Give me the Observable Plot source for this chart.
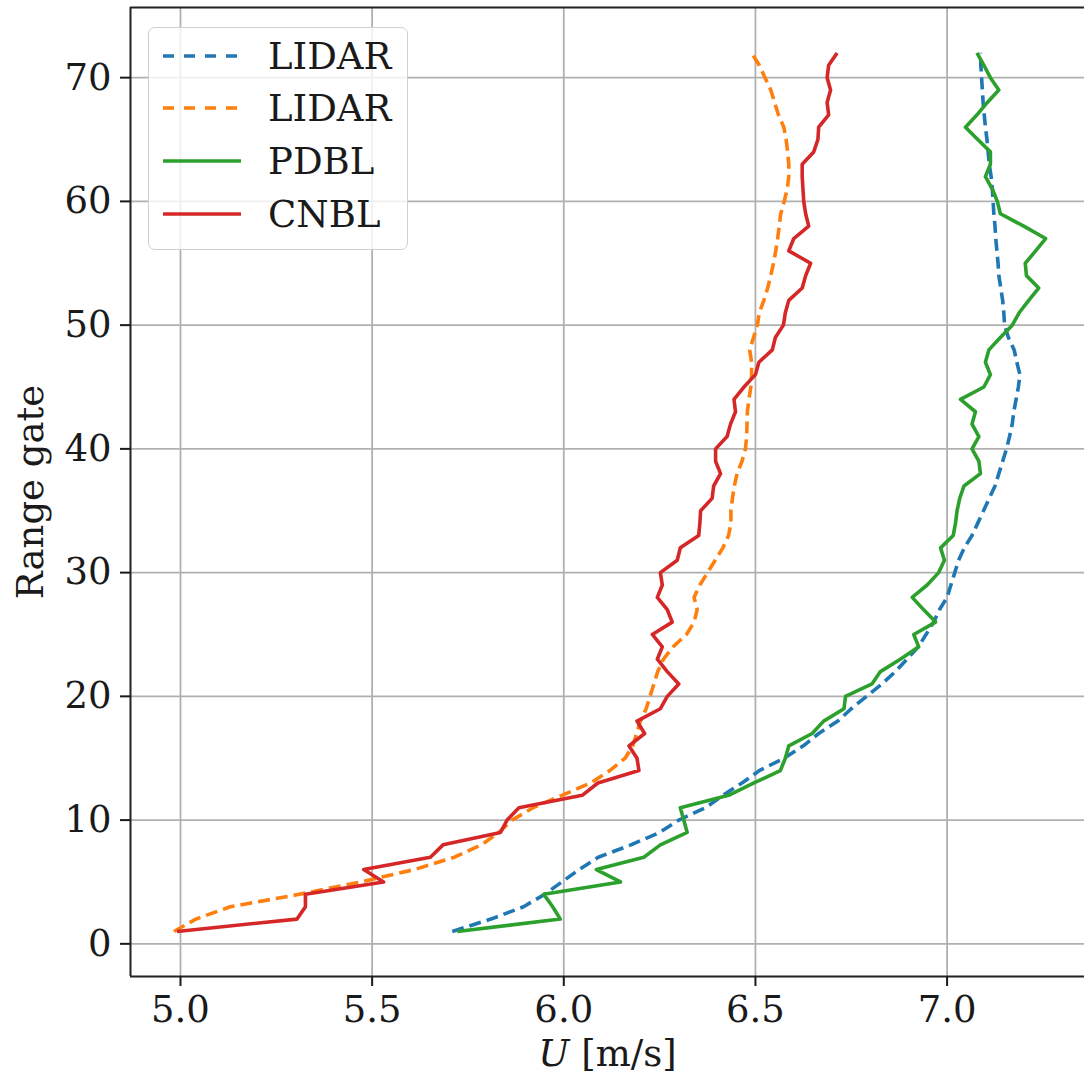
<!DOCTYPE html>
<html>
<head>
<meta charset="utf-8">
<script src="https://cdn.jsdelivr.net/npm/d3@7"></script>
<script src="https://cdn.jsdelivr.net/npm/@observablehq/plot@0.6"></script>
<style>
  html, body { margin: 0; padding: 0; background: #fff; }
  #wrap { position: relative; width: 1084px; height: 1079px; overflow: hidden; }
  #legend { position: absolute; left: 148px; top: 27px; width: 260px; height: 223px;
    box-sizing: border-box; border: 1.5px solid #d0d0d0; border-radius: 7px;
    background: rgba(255,255,255,0.8); }
  #legend svg { position: absolute; left: 0; top: 0; }
</style>
</head>
<body>
<div id="wrap"><div id="chart"></div><div id="legend"></div></div>
<script>
// Range gates (vertical axis)
const gates = [1,2,3,4,5,6,7,8,9,10,11,12,13,14,15,16,17,18,19,20,21,22,23,24,25,26,27,28,29,30,
  31,32,33,34,35,36,37,38,39,40,41,42,43,44,45,46,47,48,49,50,51,52,53,54,55,56,57,58,59,60,
  61,62,63,64,65,66,67,68,69,70,71,72];

// LIDAR (blue, dashed) – U [m/s]
const lidarBlue = [5.709,5.81,5.895,5.95,5.995,6.04,6.09,6.175,6.25,6.30,
  6.37,6.415,6.465,6.51,6.575,6.625,6.665,6.715,6.75,6.79,
  6.83,6.865,6.895,6.925,6.945,6.965,6.98,7.0,7.01,7.02,
  7.03,7.045,7.065,7.08,7.095,7.11,7.125,7.135,7.145,7.155,
  7.163,7.17,7.174,7.18,7.186,7.19,7.182,7.175,7.16,7.15,
  7.148,7.145,7.14,7.135,7.133,7.13,7.127,7.125,7.122,7.12,
  7.118,7.115,7.11,7.107,7.104,7.1,7.097,7.094,7.092,7.09,7.088,7.087];

// LIDAR (orange, dashed)
const lidarOrange = [4.983,5.04,5.13,5.31,5.47,5.61,5.715,5.785,5.83,5.865,
  5.92,5.995,6.07,6.12,6.16,6.18,6.19,6.20,6.215,6.225,
  6.235,6.245,6.26,6.285,6.32,6.34,6.348,6.34,6.355,6.375,
  6.395,6.415,6.43,6.436,6.436,6.44,6.445,6.452,6.465,6.474,
  6.477,6.478,6.479,6.483,6.488,6.49,6.49,6.485,6.495,6.505,
  6.51,6.522,6.532,6.54,6.547,6.553,6.558,6.562,6.566,6.575,
  6.583,6.587,6.587,6.584,6.58,6.574,6.56,6.55,6.54,6.525,6.51,6.49];

// PDBL (green, solid)
const pdbl = [5.722,5.991,5.971,5.948,6.148,6.085,6.209,6.252,6.322,6.313,
  6.304,6.43,6.496,6.565,6.578,6.587,6.648,6.678,6.731,6.735,
  6.804,6.826,6.878,6.926,6.913,6.97,6.939,6.909,6.948,6.978,
  6.993,6.983,7.016,7.022,7.026,7.033,7.044,7.087,7.083,7.065,
  7.083,7.065,7.074,7.035,7.096,7.113,7.1,7.109,7.139,7.17,
  7.188,7.213,7.239,7.207,7.204,7.231,7.257,7.2,7.139,7.131,
  7.118,7.1,7.113,7.113,7.08,7.048,7.078,7.105,7.135,7.113,7.096,7.078];

// CNBL (red, solid)
const cnbl = [4.991,5.304,5.326,5.326,5.530,5.478,5.652,5.685,5.835,5.852,
  5.883,6.048,6.089,6.196,6.191,6.170,6.211,6.191,6.252,6.270,
  6.300,6.270,6.244,6.257,6.231,6.283,6.270,6.244,6.257,6.252,
  6.296,6.304,6.352,6.355,6.357,6.387,6.391,6.409,6.396,6.396,
  6.426,6.435,6.448,6.444,6.470,6.500,6.509,6.544,6.552,6.573,
  6.578,6.587,6.622,6.631,6.644,6.587,6.600,6.639,6.631,6.626,
  6.624,6.622,6.622,6.652,6.663,6.665,6.691,6.687,6.696,6.687,6.691,6.713];

const seriesNames = ["LIDAR", "LIDAR", "PDBL", "CNBL"];
const seriesColors = ["#1f77b4", "#ff7f0e", "#2ca02c", "#d62728"];
const seriesDash = ["12,6", "12,6", null, null];

const xTicks = [5.0, 5.5, 6.0, 6.5, 7.0];
const yTicks = [0, 10, 20, 30, 40, 50, 60, 70];
const xDomain = [4.8696, 7.3585];
const yDomain = [-2.64, 75.67];

const toRows = (vals) => vals.map((u, i) => ({u, gate: gates[i]}));
const allSeries = [lidarBlue, lidarOrange, pdbl, cnbl];

const FONT = "DejaVu Serif";
const LW = 3.6;
const lineMarks = allSeries.map((vals, i) => Plot.line(toRows(vals), {
  x: "u", y: "gate", stroke: seriesColors[i], strokeWidth: LW,
  strokeDasharray: seriesDash[i] || undefined, strokeLinejoin: "round", strokeLinecap: "butt"
}));

const chart = Plot.plot({
  width: 1084, height: 1079,
  marginLeft: 130, marginRight: 0, marginTop: 7, marginBottom: 103,
  x: {domain: xDomain},
  y: {domain: yDomain},
  style: {fontFamily: FONT, fontSize: "37px", background: "white", color: "#1a1a1a", overflow: "visible"},
  marks: [
    Plot.gridX(xTicks, {stroke: "#b0b0b0", strokeOpacity: 1, strokeWidth: 1.8}),
    Plot.gridY(yTicks, {stroke: "#b0b0b0", strokeOpacity: 1, strokeWidth: 1.8}),
    ...lineMarks,
    Plot.ruleX([xDomain[0]], {stroke: "#222", strokeWidth: 2}),
    Plot.ruleY(yDomain, {stroke: "#222", strokeWidth: 2}),
    Plot.axisX(xTicks, {tickFormat: d3.format(".1f"), tickSize: 10, tickPadding: 9, strokeWidth: 2,
      label: "U [m/s]", labelAnchor: "center", labelArrow: "none", labelOffset: 89,
      fontFamily: FONT, fontSize: 37}),
    Plot.axisY(yTicks, {tickSize: 10, tickPadding: 9, strokeWidth: 2,
      label: "Range gate", labelAnchor: "center", labelArrow: "none", labelOffset: 114,
      fontFamily: FONT, fontSize: 37})
  ]
});
document.getElementById("chart").appendChild(chart);

// italic "U" in the x-axis label
chart.querySelectorAll("text").forEach(t => {
  if (t.textContent.trim() === "U [m/s]") {
    const tgt = t.querySelector("tspan") || t;
    tgt.textContent = "";
    const ns = "http://www.w3.org/2000/svg";
    const a = document.createElementNS(ns, "tspan");
    a.setAttribute("font-style", "italic");
    a.textContent = "U";
    const b = document.createElementNS(ns, "tspan");
    b.textContent = " [m/s]";
    tgt.appendChild(a); tgt.appendChild(b);
  }
});

// legend
const ns = "http://www.w3.org/2000/svg";
const lg = document.createElementNS(ns, "svg");
lg.setAttribute("width", 258); lg.setAttribute("height", 221);
const rowY = [28, 80, 133, 186];
seriesNames.forEach((name, i) => {
  const l = document.createElementNS(ns, "line");
  l.setAttribute("x1", 14); l.setAttribute("x2", 92);
  l.setAttribute("y1", rowY[i]); l.setAttribute("y2", rowY[i]);
  l.setAttribute("stroke", seriesColors[i]); l.setAttribute("stroke-width", LW);
  if (seriesDash[i]) l.setAttribute("stroke-dasharray", "11,10");
  lg.appendChild(l);
  const t = document.createElementNS(ns, "text");
  t.setAttribute("x", 119); t.setAttribute("y", rowY[i]);
  t.setAttribute("dy", "0.36em");
  t.setAttribute("font-family", FONT); t.setAttribute("font-size", 37);
  t.setAttribute("fill", "#1a1a1a");
  t.textContent = name;
  lg.appendChild(t);
});
document.getElementById("legend").appendChild(lg);
</script>
</body>
</html>
